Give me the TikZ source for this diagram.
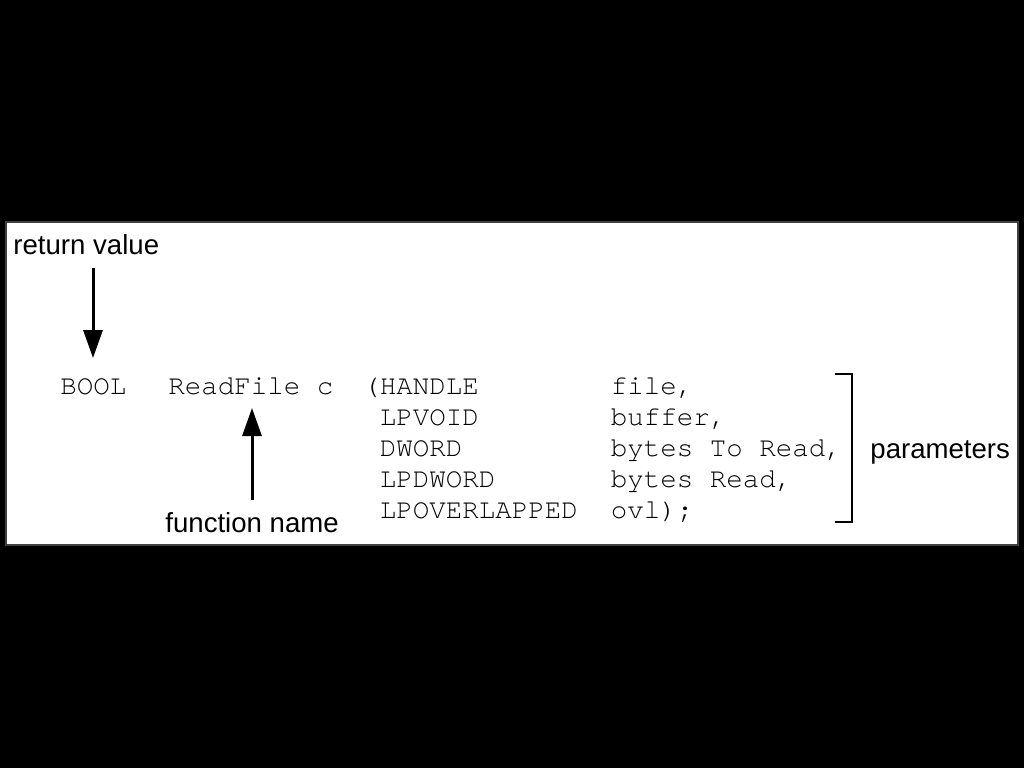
\documentclass[tikz,border=0pt]{standalone}
\usepackage{fontspec}
\setmainfont{Liberation Sans}
\newfontfamily\monofnt[Ligatures={NoCommon,TeX}]{TeX Gyre Cursor}
\usetikzlibrary{arrows.meta}
\begin{document}
\begin{tikzpicture}[x=0.5pt,y=-0.5pt,
  lbl/.style={inner sep=0pt,anchor=base west,font=\fontsize{13.8}{16}\selectfont},
  code/.style={inner sep=0pt,anchor=base west,font=\monofnt\fontsize{13.75}{16}\selectfont},
  arr/.style={line width=1.5pt,-{Triangle[length=14pt,width=9.5pt]}},
  brk/.style={line width=1pt}]
\useasboundingbox (0,0) rectangle (1024,768);
\fill[black] (0,0) rectangle (1024,768);
\draw[draw=black!75,line width=1pt,fill=white] (6,222) rectangle (1018,545);
% labels
\node[lbl] (rv) at (13,254) {return value};
\node[lbl] (fn) at (165,532) {function name};
\node[lbl] (par) at (870,458) {parameters};
% code
\node[code] (bool) at (60,394) {BOOL};
\node[code] (rf) at (168,394) {ReadFile c};
\node[code] (t1) at (363,394) {(HANDLE};
\node[code] (t2) at (379.5,425) {LPVOID};
\node[code] (t3) at (379.5,456) {DWORD};
\node[code] (t4) at (379.5,487) {LPDWORD};
\node[code] (t5) at (379.5,518) {LPOVERLAPPED};
\node[code] (n1) at (610.5,394) {f{}ile,};
\node[code] (n2) at (610.5,425) {buf{}fer,};
\node[code] (n3) at (610.5,456) {bytes To Read,};
\node[code] (n4) at (610.5,487) {bytes Read,};
\node[code] (n5) at (610.5,518) {ovl);};
% arrows
\coordinate (a1s) at (93,268);
\coordinate (a1e) at (93,358);
\draw[arr] (a1s) -- (a1e);
\coordinate (a2s) at (252,500);
\coordinate (a2e) at (252,408);
\draw[arr] (a2s) -- (a2e);
% bracket
\coordinate (b1) at (835,374);
\coordinate (b2) at (852,374);
\coordinate (b3) at (852,522);
\coordinate (b4) at (835,522);
\draw[brk] (b1) -- (b2) -- (b3) -- (b4);
\end{tikzpicture}
\end{document}
